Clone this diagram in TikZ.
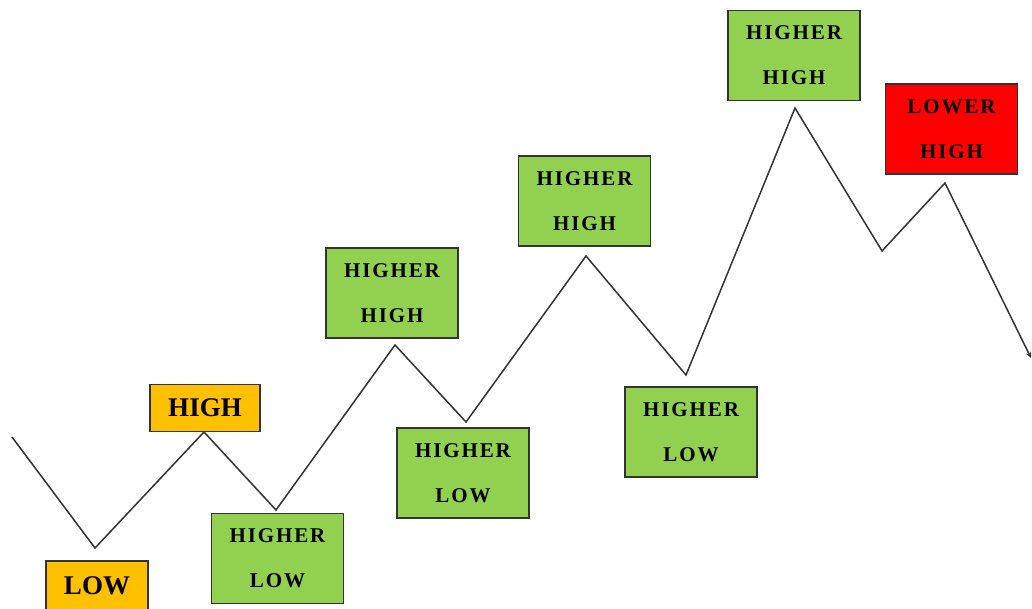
\documentclass[tikz,border=0pt]{standalone}
\usepackage{fontspec}
\setmainfont{Liberation Serif}
\newfontfamily\boxfont[LetterSpace=9]{Liberation Serif}
\usetikzlibrary{arrows.meta}
\definecolor{gold}{HTML}{FFC000}
\definecolor{lgreen}{HTML}{92D050}
\definecolor{bred}{HTML}{FF0000}
\definecolor{edge}{HTML}{333333}
\begin{document}
\begin{tikzpicture}[x=1pt,y=-1pt,
  box/.style={draw=edge,line width=1.2pt,inner sep=0pt,minimum width=#1},
  gbox/.style={box=132pt,fill=lgreen,minimum height=90pt,align=center,font=\boxfont\fontsize{21}{45}\selectfont\bfseries},
  rbox/.style={gbox,fill=bred},
  obox/.style={box=#1,fill=gold,font=\fontsize{27}{30}\selectfont\bfseries},
  zig/.style={draw=edge,line width=1.5pt,line join=miter}]
\useasboundingbox (0,0) rectangle (1032,609);
\node[obox=102pt,minimum height=50pt] (low) at (97,586) {LOW};
\node[obox=110pt,minimum height=47pt] (high) at (205,408) {HIGH};
\node[gbox] (hl1) at (277.5,558.5) {HIGHER\\LOW};
\node[gbox] (hh1) at (392,293) {HIGHER\\HIGH};
\node[gbox] (hl2) at (463,473) {HIGHER\\LOW};
\node[gbox] (hh2) at (584.5,201) {HIGHER\\HIGH};
\node[gbox] (hl3) at (691,432) {HIGHER\\LOW};
\node[gbox] (hh3) at (794,55.5) {HIGHER\\HIGH};
\node[rbox] (lh) at (951.5,129) {LOWER\\HIGH};
\coordinate (p0) at (12,437);
\coordinate (p1) at (95,548);
\coordinate (p2) at (204,432);
\coordinate (p3) at (276,510);
\coordinate (p4) at (395,345);
\coordinate (p5) at (466,422);
\coordinate (p6) at (586,256);
\coordinate (p7) at (686,375);
\coordinate (p8) at (795,108);
\coordinate (p9) at (882,251);
\coordinate (p10) at (945,183);
\coordinate (p11) at (1031,358);
\draw[zig,-{Stealth[length=6pt,width=5pt]}] (p0) -- (p1) -- (p2) -- (p3) -- (p4) -- (p5) -- (p6) -- (p7) -- (p8) -- (p9) -- (p10) -- (p11);
\end{tikzpicture}
\end{document}
